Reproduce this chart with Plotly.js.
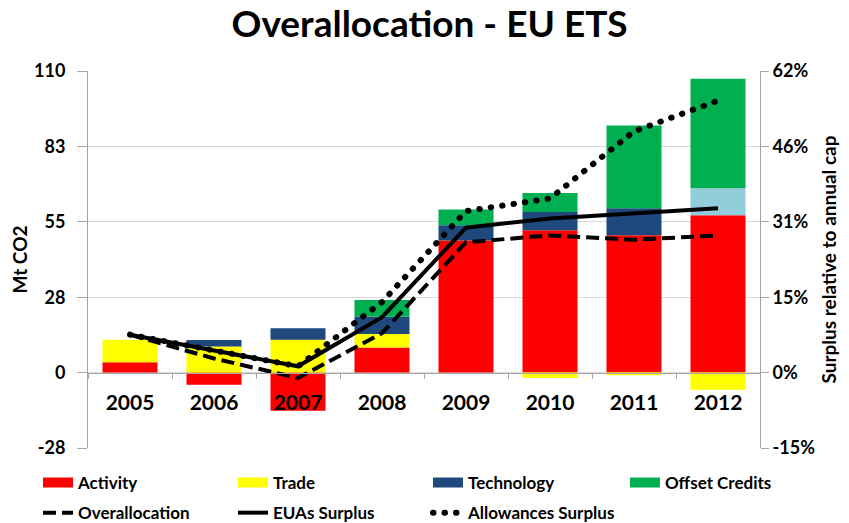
<!DOCTYPE html>
<html>
<head>
<meta charset="utf-8">
<script src="https://cdn.plot.ly/plotly-3.0.1.min.js"></script>
<style>
html,body{margin:0;padding:0;background:#fff;}
#chart{width:849px;height:523px;}
path[style*="0.5px"]{stroke-linecap:round;}
</style>
</head>
<body>
<div id="chart"></div>
<script>
// Categories
const years = ['2005','2006','2007','2008','2009','2010','2011','2012'];
// Bar components (Mt CO2)
const activity   = [3.8, -4.4, -13.9, 9.2, 48.2, 51.9, 50.1, 57.4];
const trade      = [8.2,  9.5,  12.0, 4.9,  0.0, -2.0, -1.0, -6.3];
const technology = [0.0,  2.4,   4.2, 6.3,  5.5,  6.7,  9.8,  9.8];
const offsets    = [0.0,  0.0,   0.0, 6.1,  5.8,  6.9, 30.2, 40.0];
// Lines (% surplus relative to annual cap)
const overallocation = [7.8, 2.9, -1.1,  8.1, 26.8, 28.2, 27.3, 28.2];
const euasSurplus    = [7.8, 4.5,  1.3, 11.4, 29.8, 31.7, 32.8, 33.8];
const allowSurplus   = [7.8, 4.5,  1.3, 14.5, 33.2, 35.8, 49.6, 55.9];
// Tick labels
const leftTickVals  = [-27.5, 0, 27.5, 55, 82.5, 110];
const leftTickText  = ['-28', '0', '28', '55', '83', '110'];
const rightTickVals = [-15.5, 0, 15.5, 31, 46.5, 62];
const rightTickText = ['-15%', '0%', '15%', '31%', '46%', '62%'];

const C_ACT = '#FF0000', C_TRADE = '#FFFF00', C_TECH = '#1F497D', C_TECH2 = '#92CDDC', C_OFF = '#00B050';
const techColors = years.map((y, i) => i === years.length - 1 ? C_TECH2 : C_TECH);
const FONT = 'Lato, "Open Sans", sans-serif';

// legend swatch helper (wide rectangles like the original legend)
function swatch(name, color, lg) {
  return {type:'scatter', mode:'lines', name:name, x:[null], y:[null],
          line:{color:color, width:10}, legend:lg, hoverinfo:'skip'};
}

const traces = [
  {type:'bar', name:'Activity', x:years, y:activity, marker:{color:C_ACT}, showlegend:false},
  {type:'bar', name:'Trade', x:years, y:trade, marker:{color:C_TRADE}, showlegend:false},
  {type:'bar', name:'Technology', x:years, y:technology, marker:{color:techColors}, showlegend:false},
  {type:'bar', name:'Offset Credits', x:years, y:offsets, marker:{color:C_OFF}, showlegend:false},
  swatch('Activity', C_ACT, 'legend4'),
  swatch('Trade', C_TRADE, 'legend4'),
  swatch('Technology', C_TECH, 'legend4'),
  swatch('Offset Credits', C_OFF, 'legend3'),
  {type:'scatter', mode:'lines', name:'Overallocation', x:years, y:overallocation, yaxis:'y2',
   line:{color:'#000', width:4, dash:'13px,6px'}, legend:'legend2'},
  {type:'scatter', mode:'lines', name:'EUAs Surplus', x:years, y:euasSurplus, yaxis:'y2',
   line:{color:'#000', width:4}, legend:'legend2'},
  {type:'scatter', mode:'lines', name:'Allowances Surplus', x:years, y:allowSurplus, yaxis:'y2',
   line:{color:'#000', width:6, dash:'0.5px,11px'}, legend:'legend2'}
];

const legendCommon = {orientation:'h', xanchor:'left', yanchor:'top',
  entrywidth:150, entrywidthmode:'pixels', bgcolor:'rgba(0,0,0,0)',
  font:{family:FONT, size:17, weight:700, color:'#000'}, tracegroupgap:0};

const layout = {
  width:849, height:523,
  margin:{l:88, r:89, t:71, b:75, autoexpand:false},
  paper_bgcolor:'#fff', plot_bgcolor:'#fff',
  font:{family:FONT, color:'#000', size:16, weight:700},
  title:{text:'<b>Overallocation - EU ETS</b>', x:0.506, xanchor:'center', y:0.955, yanchor:'middle',
         font:{family:FONT, size:37, color:'#000'}},
  barmode:'relative', bargap:0.345,
  showlegend:true,
  xaxis:{type:'category', anchor:'free', position:0.2, showline:true, linecolor:'#A6A6A6', linewidth:1,
         ticks:'outside', tickson:'boundaries', ticklen:5, tickcolor:'#A6A6A6',
         ticklabelstandoff:11, tickfont:{family:FONT, size:21, weight:700, color:'#000'},
         showgrid:false, zeroline:false},
  yaxis:{range:[-27.5, 110], tickvals:leftTickVals, ticktext:leftTickText,
         showline:true, linecolor:'#A6A6A6', ticks:'outside', ticklen:10, tickcolor:'#A6A6A6',
         ticklabelstandoff:8,
         showgrid:true, gridcolor:'#D9D9D9', zeroline:false,
         tickfont:{family:FONT, size:18, weight:700, color:'#000'},
         title:{text:'<b>Mt CO2</b>', standoff:1, font:{family:FONT, size:19, color:'#000'}}},
  yaxis2:{range:[-15.5, 62], overlaying:'y', side:'right', tickvals:rightTickVals, ticktext:rightTickText,
          showline:true, linecolor:'#A6A6A6', ticks:'outside', ticklen:8, tickcolor:'#A6A6A6',
          showgrid:false, zeroline:false,
          tickfont:{family:FONT, size:18, weight:700, color:'#000'},
          title:{text:'<b>Surplus relative to annual cap</b>', standoff:8, font:{family:FONT, size:19, color:'#000'}}},
  legend: Object.assign({}, legendCommon, {x:0, y:-0.045, visible:false}),
  legend4: Object.assign({}, legendCommon, {x:-0.0744, y:-0.045}),
  legend3: Object.assign({}, legendCommon, {x:0.799, y:-0.045}),
  legend2: Object.assign({}, legendCommon, {x:-0.0744, y:-0.125})
};

Plotly.newPlot('chart', traces, layout, {displayModeBar:false, staticPlot:true});
</script>
</body>
</html>
